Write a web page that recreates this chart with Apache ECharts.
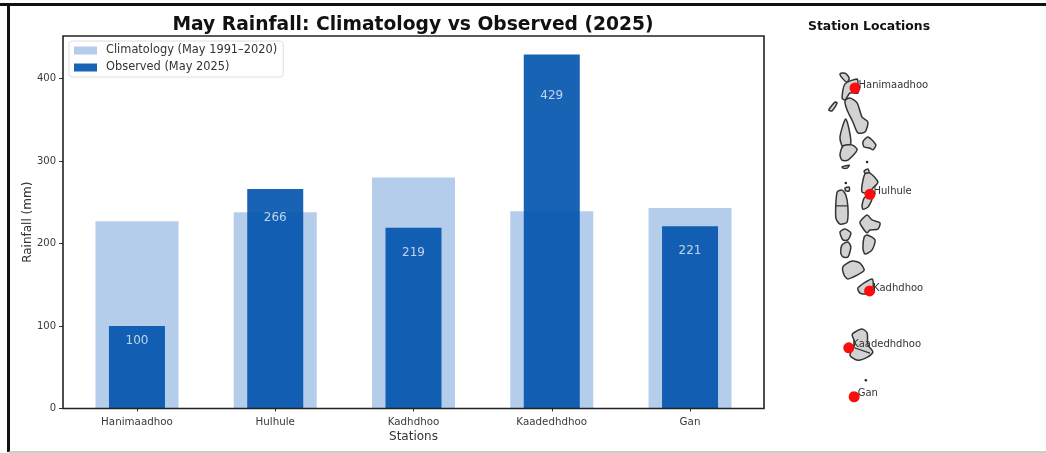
<!DOCTYPE html>
<html><head><meta charset="utf-8">
<style>html,body{margin:0;padding:0;background:#fff}#c{width:1046px;height:453px}</style>
<script src="https://cdn.jsdelivr.net/npm/echarts@6/dist/echarts.min.js"></script>
</head><body><div id="c"></div>
<script>
const stations = ['Hanimaadhoo','Hulhule','Kadhdhoo','Kaadedhdhoo','Gan'];
const climatology = [227,238,280,239,243];
const observed = [100,266,219,429,221];
const labelHeights = [82,231,189,379,191];
const yTicks = [0,100,200,300,400];
const stationLon = [73.17,73.53,73.52,73.02,73.15];
const stationLat = [6.75,4.19,1.86,0.49,-0.69];
const atolls = [
 [[72.81,7.09],[72.93,7.11],[73.03,6.99],[72.98,6.89],[72.88,6.97]],
 [[72.93,6.85],[73.22,6.97],[73.24,6.87],[73.24,6.63],[73.05,6.63],[72.93,6.46],[72.86,6.51]],
 [[72.93,6.44],[73.05,6.51],[73.22,6.39],[73.34,6.05],[73.48,5.93],[73.41,5.69],[73.24,5.67],[73.12,5.93],[72.98,6.22]],
 [[72.54,6.22],[72.69,6.41],[72.74,6.39],[72.62,6.20]],
 [[72.95,6.0],[73.07,5.42],[72.88,5.33],[72.81,5.57]],
 [[72.88,5.35],[73.10,5.38],[73.22,5.26],[73.0,5.01],[72.86,5.01],[72.81,5.14]],
 [[73.36,5.45],[73.48,5.57],[73.67,5.38],[73.60,5.26],[73.53,5.30],[73.39,5.33]],
 [[72.86,4.85],[73.03,4.89],[72.98,4.82],[72.88,4.82]],
 [[73.39,4.75],[73.48,4.80],[73.51,4.70],[73.41,4.70]],
 [[73.41,4.68],[73.53,4.70],[73.72,4.48],[73.60,4.34],[73.48,4.22],[73.34,4.24],[73.34,4.41]],
 [[73.41,4.12],[73.58,4.10],[73.48,3.88],[73.36,3.83],[73.34,3.93]],
 [[72.93,4.34],[73.03,4.36],[73.03,4.27],[72.95,4.27]],
 [[72.74,4.24],[72.86,4.29],[72.95,4.17],[73.0,3.88],[72.98,3.52],[72.81,3.47],[72.71,3.62]],
 [[73.29,3.52],[73.46,3.69],[73.58,3.57],[73.77,3.50],[73.72,3.35],[73.53,3.33],[73.46,3.26],[73.34,3.40]],
 [[72.81,3.28],[72.93,3.35],[73.07,3.26],[73.0,3.09],[72.88,3.09]],
 [[72.86,2.97],[73.0,3.04],[73.07,2.92],[73.0,2.68],[72.88,2.68],[72.83,2.77]],
 [[73.39,3.16],[73.46,3.21],[73.65,3.09],[73.58,2.85],[73.41,2.75],[73.36,2.89]],
 [[72.88,2.44],[73.10,2.58],[73.29,2.53],[73.39,2.36],[73.22,2.24],[73.0,2.15],[72.91,2.24]],
 [[73.24,1.93],[73.58,2.15],[73.60,1.93],[73.46,1.79],[73.29,1.81]],
 [[73.17,0.87],[73.34,0.94],[73.46,0.85],[73.48,0.56],[73.60,0.39],[73.48,0.27],[73.24,0.19],[73.05,0.31],[73.17,0.60],[73.10,0.80]]
];
const atollDividers = [
 [[72.71,3.91],[73.0,3.91]],
 [[73.10,0.51],[73.53,0.36]]
];
const islets = [[73.46,4.97],[72.95,4.46],[73.43,-0.29],[73.10,-0.60]];

const FONT = '"DejaVu Sans"';
const hiddenX = {type:'value',min:-0.535,max:4.535,gridIndex:0,show:false};
const chart = echarts.init(document.getElementById('c'),null,{renderer:'canvas'});
chart.setOption({
 animation:false,
 backgroundColor:'#fff',
 textStyle:{fontFamily:FONT},
 title:[
  {text:'May Rainfall: Climatology vs Observed (2025)',left:408,top:10,textAlign:'center',
   textStyle:{fontFamily:FONT,fontWeight:'bold',fontSize:18.7,color:'#111',lineHeight:20}},
  {text:'Station Locations',left:864,top:15,textAlign:'center',
   textStyle:{fontFamily:FONT,fontWeight:'bold',fontSize:12.4,color:'#111',lineHeight:14}}
 ],
 legend:{
  left:69,top:41,orient:'vertical',padding:[4,6,4,5],itemWidth:23,itemHeight:8,itemGap:6,
  backgroundColor:'rgba(255,255,255,0.8)',borderColor:'#dedede',borderWidth:1,borderRadius:3,
  textStyle:{fontFamily:FONT,fontSize:11.4,color:'#333',lineHeight:10,padding:[0,0,0,4]},
  data:[{name:'Climatology (May 1991–2020)',icon:'rect'},{name:'Observed (May 2025)',icon:'rect'}]
 },
 grid:[
  {left:63,top:36,width:701,height:372.5,show:true,borderColor:'#222',borderWidth:1.6,backgroundColor:'transparent',z:5},
  {left:800,top:60,width:150,height:360,show:false}
 ],
 xAxis:[
  {type:'value',min:-0.535,max:4.535,gridIndex:0,splitLine:{show:false},
   axisLine:{show:false,onZero:false},
   axisTick:{show:true,length:3,customValues:[0,1,2,3,4],lineStyle:{color:'#333'}},
   axisLabel:{customValues:[0,1,2,3,4],formatter:v=>stations[v],fontSize:10.3,color:'#3a3a3a',margin:9,fontFamily:FONT},
   name:'Stations',nameLocation:'middle',nameGap:22,nameMoveOverlap:false,nameTextStyle:{fontSize:12,color:'#333',fontFamily:FONT}},
  hiddenX,
  {type:'value',min:71.85,max:75.45,gridIndex:1,show:false}
 ],
 yAxis:[
  {type:'value',min:0,max:451.5,gridIndex:0,splitLine:{show:false},
   axisLine:{show:false,onZero:false},
   axisTick:{show:true,length:4,customValues:yTicks,lineStyle:{color:'#333'}},
   axisLabel:{customValues:yTicks,fontSize:10,color:'#3a3a3a',margin:7,fontFamily:FONT},
   name:'Rainfall (mm)',nameLocation:'middle',nameGap:29,nameMoveOverlap:false,nameTextStyle:{fontSize:12,color:'#333',fontFamily:FONT}},
  {type:'value',min:-1.25,max:7.425,gridIndex:1,show:false}
 ],
 series:[
  {type:'bar',name:'Climatology (May 1991–2020)',xAxisIndex:0,yAxisIndex:0,barWidth:83,z:2,
   itemStyle:{color:'rgba(21,101,192,0.32)'},
   data:climatology.map((v,i)=>[i,v])},
  {type:'bar',name:'Observed (May 2025)',xAxisIndex:1,yAxisIndex:0,barWidth:56,z:3,
   itemStyle:{color:'rgba(0,82,172,0.9)'},
   data:observed.map((v,i)=>[i,v])},
  {type:'scatter',xAxisIndex:0,yAxisIndex:0,symbolSize:1,z:4,silent:true,
   itemStyle:{color:'transparent'},
   label:{show:true,position:'inside',color:'#e8f0fa',fontSize:12,fontFamily:FONT,
    formatter:p=>String(observed[p.dataIndex])},
   data:labelHeights.map((v,i)=>[i,v])},
  {type:'custom',xAxisIndex:2,yAxisIndex:1,coordinateSystem:'cartesian2d',silent:true,z:2,clip:false,
   data:atolls.map((a,i)=>[i]),
   renderItem:(params,api)=>({
     type:'polygon',
     shape:{points:atolls[api.value(0)].map(p=>api.coord(p)),smooth:0.25},
     style:{fill:'#d2d2d2',stroke:'#333',lineWidth:1.5}
   })},
  {type:'custom',xAxisIndex:2,yAxisIndex:1,coordinateSystem:'cartesian2d',silent:true,z:3,clip:false,
   data:atollDividers.map((a,i)=>[i]),
   renderItem:(params,api)=>({
     type:'polyline',
     shape:{points:atollDividers[api.value(0)].map(p=>api.coord(p))},
     style:{fill:null,stroke:'#333',lineWidth:1.2}
   })},
  {type:'scatter',xAxisIndex:2,yAxisIndex:1,symbolSize:2.5,silent:true,z:3,
   itemStyle:{color:'#222',opacity:1},data:islets},
  {type:'scatter',xAxisIndex:2,yAxisIndex:1,symbolSize:11,silent:true,z:4,
   itemStyle:{color:'#fb0d0d',opacity:1},
   label:{show:true,position:'right',distance:-2,offset:[0,-3],fontSize:10,color:'#333',opacity:1,fontFamily:FONT,
    formatter:p=>stations[p.dataIndex]},
   data:stationLon.map((x,i)=>[x,stationLat[i]])}
 ],
 graphic:[
  {type:'line',silent:true,shape:{x1:0,y1:4.5,x2:1046,y2:4.5},style:{stroke:'#111',lineWidth:3}},
  {type:'line',silent:true,shape:{x1:8.5,y1:4,x2:8.5,y2:452},style:{stroke:'#111',lineWidth:3}},
  {type:'line',silent:true,shape:{x1:9,y1:452,x2:1046,y2:452},style:{stroke:'#bdbdbd',lineWidth:1.5}}
 ]
});
</script></body></html>
